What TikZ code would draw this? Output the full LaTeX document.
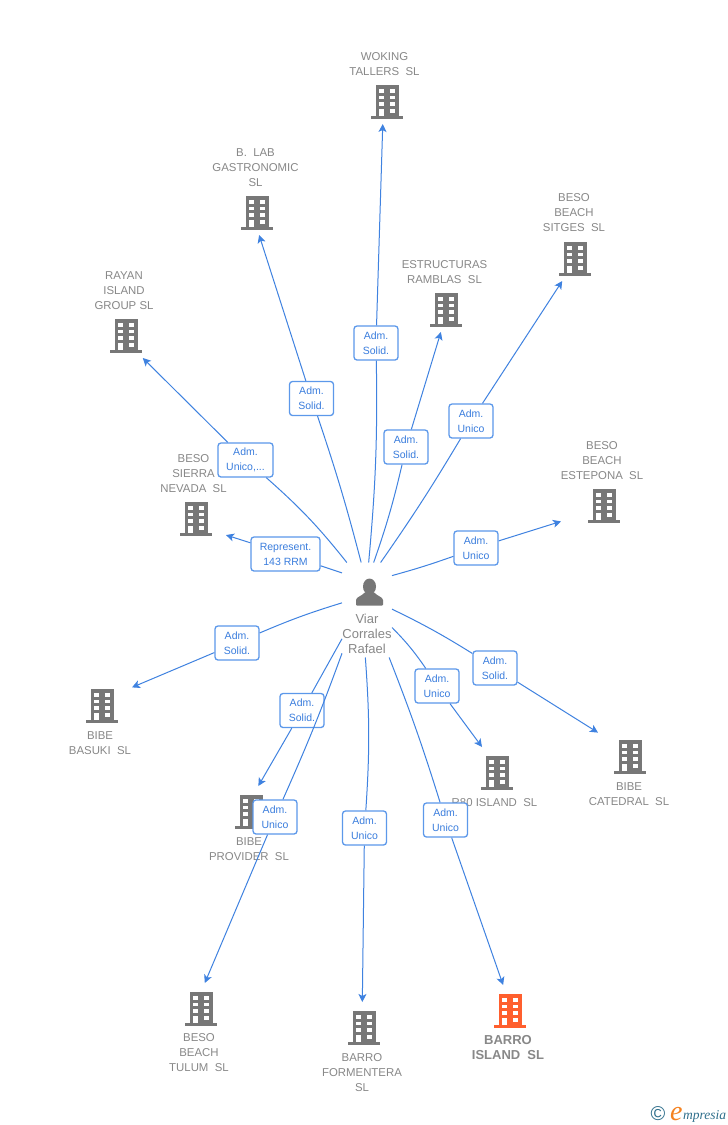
\documentclass[tikz,border=0pt]{standalone}
\usepackage{fontspec}
\setmainfont{Liberation Sans}
\newfontfamily\logofont{Liberation Serif}
\usetikzlibrary{arrows.meta}
\definecolor{linkblue}{HTML}{3F82E0}
\definecolor{boxblue}{HTML}{5C98EA}
\definecolor{textblue}{HTML}{3A7DDD}
\definecolor{namegrey}{HTML}{888888}
\definecolor{icongrey}{HTML}{777777}
\definecolor{iconorange}{HTML}{FF5F2E}
\definecolor{logoteal}{HTML}{2F6F8C}
\definecolor{logoorange}{HTML}{F58220}
\tikzset{
  x=1pt,y=-1pt,
  pics/building/.style={code={
    \fill[#1] (-11,-17) rectangle (11.5,15);
    \fill[#1] (-16,14) rectangle (16,17);
    \foreach \y in {-13,-6.5,0} {
      \fill[white] (-8.5,\y) rectangle (-3.5,\y+3.8);
      \fill[white] (2.5,\y) rectangle (7.5,\y+3.8);
    }
    \fill[white] (-8.5,7) rectangle (-3.5,14);
    \fill[white] (2.5,7) rectangle (7.5,10.8);
  }},
  firm/.style={minimum width=60,minimum height=48,inner sep=0,outer sep=0},
  firmname/.style={text=namegrey,align=center,inner sep=0,font=\fontsize{11.4}{15}\selectfont},
  rolebox/.style={draw=boxblue,line width=1.3,fill=white,rounded corners=3,minimum width=44,
    minimum height=34,inner sep=0,align=center,text=textblue,font=\fontsize{10.5}{15}\selectfont},
  link/.style={draw=linkblue,line width=1},
  linkend/.style={link,-{Stealth[length=8,width=8,inset=2]}}
}
\begin{document}
\begin{tikzpicture}
  \useasboundingbox[fill=white] (0,0) rectangle (728,1125);
  % Company icons
  \pic at (387,102) {building=icongrey};
  \pic at (257,213) {building=icongrey};
  \pic at (575,259) {building=icongrey};
  \pic at (446,310) {building=icongrey};
  \pic at (126,336) {building=icongrey};
  \pic at (196,519) {building=icongrey};
  \pic at (604,506) {building=icongrey};
  \pic at (102,706) {building=icongrey};
  \pic at (251,812) {building=icongrey};
  \pic at (497,773) {building=icongrey};
  \pic at (630,757) {building=icongrey};
  \pic at (201,1009) {building=icongrey};
  \pic at (364,1028) {building=icongrey};
  \pic at (510,1011) {building=iconorange};
  % Company frames, the arrows end on these
  \node[firm] (woking) at (387,100) {};
  \node[firm] (blab) at (257,211) {};
  \node[firm] (sitges) at (575,257) {};
  \node[firm] (ramblas) at (446,308) {};
  \node[firm] (rayan) at (126,334) {};
  \node[firm] (sierra) at (196,517) {};
  \node[firm,minimum width=86] (estepona) at (604,504) {};
  \node[firm] (basuki) at (102,704) {};
  \node[firm] (provider) at (251,810) {};
  \node[firm] (erochenta) at (497,771) {};
  \node[firm,minimum width=64] (catedral) at (630,755) {};
  \node[firm] (tulum) at (201,1007) {};
  \node[firm] (formentera) at (364,1026) {};
  \node[firm] (island) at (510,1009) {};
  % Company names
  \node[firmname] (wokingname) at (384.5,64.5) {WOKING\\TALLERS\ \ SL};
  \node[firmname] (blabname) at (255.5,168) {B.\ \ LAB\\GASTRONOMIC\\SL};
  \node[firmname] (sitgesname) at (574,213) {BESO\\BEACH\\SITGES\ \ SL};
  \node[firmname] (ramblasname) at (444.5,272.5) {ESTRUCTURAS\\RAMBLAS\ \ SL};
  \node[firmname] (rayanname) at (124,291) {RAYAN\\ISLAND\\GROUP SL};
  \node[firmname] (sierraname) at (193.5,474) {BESO\\SIERRA\\NEVADA\ \ SL};
  \node[firmname] (esteponaname) at (602,461) {BESO\\BEACH\\ESTEPONA\ \ SL};
  \node[firmname] (basukiname) at (100,743.5) {BIBE\\BASUKI\ \ SL};
  \node[firmname] (providername) at (249,849.5) {BIBE\\PROVIDER\ \ SL};
  \node[firmname] (erochentaname) at (494.5,803) {R80 ISLAND\ \ SL};
  \node[firmname] (catedralname) at (629,794.5) {BIBE\\CATEDRAL\ \ SL};
  \node[firmname] (tulumname) at (199,1053) {BESO\\BEACH\\TULUM\ \ SL};
  \node[firmname] (formenteraname) at (362,1073) {BARRO\\FORMENTERA\\SL};
  \node[firmname,font=\fontsize{13}{15}\bfseries\selectfont] (islandname) at (508,1048) {BARRO\\ISLAND\ \ SL};
  % Person in the middle
  \node[minimum width=50,minimum height=95,inner sep=0,outer sep=0] (viar) at (367,610) {};
  \fill[icongrey] (369.5,586.5) ellipse (6.5 and 8);
  \fill[icongrey,rounded corners=1] (356,605.5) -- (356,601) .. controls (356,597) and (362,596) .. (365,592)
    -- (374,592) .. controls (377,596) and (383,597) .. (383,601) -- (383,605.5) -- cycle;
  \node[firmname,font=\fontsize{13}{15}\selectfont] (viarname) at (367,634) {Viar\\Corrales\\Rafael};
  % Role boxes
  \node[rolebox] (rolewoking) at (376,343) {Adm.\\Solid.};
  \node[rolebox] (roleblab) at (311.5,398.5) {Adm.\\Solid.};
  \node[rolebox,minimum width=55] (rolerayan) at (245.5,460) {Adm.\\Unico,...};
  \node[rolebox] (roleramblas) at (406,447) {Adm.\\Solid.};
  \node[rolebox] (rolesitges) at (471,421) {Adm.\\Unico};
  \node[rolebox,minimum width=69] (rolesierra) at (285.5,554) {Represent.\\143 RRM};
  \node[rolebox] (roleestepona) at (476,548) {Adm.\\Unico};
  \node[rolebox] (rolebasuki) at (237,643) {Adm.\\Solid.};
  \node[rolebox] (rolecatedral) at (495,668) {Adm.\\Solid.};
  \node[rolebox] (roleerochenta) at (437,686) {Adm.\\Unico};
  \node[rolebox] (roleprovider) at (302,710.5) {Adm.\\Solid.};
  \node[rolebox] (roletulum) at (275,817) {Adm.\\Unico};
  \node[rolebox] (roleformentera) at (364.5,828) {Adm.\\Unico};
  \node[rolebox] (roleisland) at (445.5,820) {Adm.\\Unico};
  % Links, person to box
  \draw[link] (viar.88.8) to[bend right=3] (rolewoking);
  \draw[link] (viar.97.3) to[bend right=2] (roleblab);
  \draw[link] (viar.113) to[bend right=5] (rolerayan);
  \draw[link] (viar.82.7) to[bend right=3] (roleramblas);
  \draw[link] (viar.74.5) to[bend right=2] (rolesitges);
  \draw[link] (viar.124) -- (rolesierra);
  \draw[link] (viar.54.5) to[bend right=2] (roleestepona);
  \draw[link] (viar.164.4) to[bend right=3] (rolebasuki);
  \draw[link] (viar.2.3) to[bend left=3] (rolecatedral);
  \draw[link] (viar.-35.8) to[bend left=5] (roleerochenta);
  \draw[link] (viar.229.2) -- (roleprovider);
  \draw[link] (viar.240.4) to[bend left=2] (roletulum);
  \draw[link] (viar.268.8) to[bend left=4] (roleformentera);
  \draw[link] (viar.-65.4) to[bend left=2] (roleisland);
  % Links, box to company
  \draw[linkend] (rolewoking) -- (woking.260.5);
  \draw[linkend] (roleblab) -- (blab.-85);
  \draw[linkend] (rolerayan) -- (rayan.-55);
  \draw[linkend] (roleramblas) -- (ramblas.258);
  \draw[linkend] (rolesitges) -- (sitges.242);
  \draw[linkend] (rolesierra) -- (sierra.-31);
  \draw[linkend] (roleestepona) -- (estepona.202.7);
  \draw[linkend] (rolebasuki) -- (basuki.29.5);
  \draw[linkend] (rolecatedral) -- (catedral.145);
  \draw[linkend] (roleerochenta) -- (erochenta.122);
  \draw[linkend] (roleprovider) -- (provider.73.7);
  \draw[linkend] (roletulum) -- (tulum.81);
  \draw[linkend] (roleformentera) -- (formentera.94.6);
  \draw[linkend] (roleisland) -- (island.106);
  % Logo in the corner
  \node[text=logoteal,inner sep=0,font=\fontsize{20}{20}\selectfont] (logoc) at (658,1114) {©};
  \node[text=logoorange,inner sep=0,anchor=base west,font=\logofont\itshape\fontsize{28}{28}\selectfont] (logoe) at (670,1120) {e};
  \node[text=logoteal,inner sep=0,anchor=base west,font=\logofont\itshape\fontsize{13.5}{13.5}\selectfont] (logotext) at (683,1119) {mpresia};
\end{tikzpicture}
\end{document}
